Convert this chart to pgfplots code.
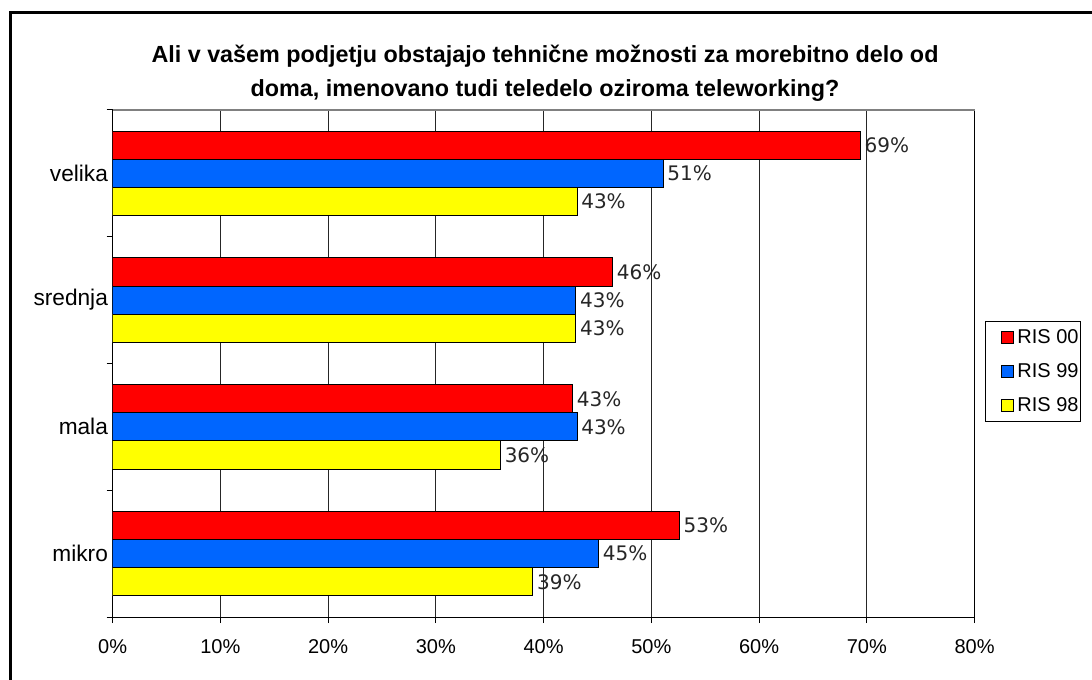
\documentclass[border=0pt]{standalone}
\usepackage{fontspec}
\setmainfont{Liberation Sans}
\newfontfamily\dejavu{DejaVu Sans}
\usepackage{pgfplots}
\pgfplotsset{compat=1.18}
\definecolor{risred}{RGB}{255,0,0}
\definecolor{risblue}{RGB}{0,102,255}
\definecolor{risyellow}{RGB}{255,255,0}
\begin{document}
\begin{tikzpicture}[x=0.75pt,y=0.75pt]
\path[use as bounding box] (0,0) rectangle (1092,679);
\draw[line width=2.25pt] (10,-10) -- (10,666) -- (1110,666);
\node[align=center, font=\bfseries\fontsize{17.5}{25.5}\selectfont] at (545,606) {Ali v vašem podjetju obstajajo tehnične možnosti za morebitno delo od\\doma, imenovano tudi teledelo oziroma teleworking?};
\begin{axis}[
  at={(84.45pt,46.5pt)}, anchor=south west,
  scale only axis, width=646.5pt, height=380.25pt,
  xbar,
  xmin=0, xmax=80, ymin=-0.5, ymax=3.5,
  xtick={0,10,...,80},
  xticklabels={0\%,10\%,20\%,30\%,40\%,50\%,60\%,70\%,80\%},
  xticklabel style={font=\fontsize{15}{18}\selectfont, yshift=-9pt},
  ytick={-0.5,0.5,1.5,2.5,3.5}, yticklabels={},
  extra y ticks={0,1,2,3},
  extra y tick labels={mikro,mala,srednja,velika},
  extra y tick style={major tick length=0pt, yticklabel style={font=\fontsize{17}{20}\selectfont}},
  extra y tick style={grid=none},
  tick pos=left,
  tick align=outside, major tick length=4.5pt,
  tick style={black, line width=0.75pt},
  xmajorgrids, grid style={black!85, line width=0.6pt},
  axis line style={black, line width=0.75pt},
  after end axis/.code={\draw[gray, line width=0.9pt] (rel axis cs:0,1) -- (rel axis cs:1,1);},
  bar width=21.08pt,
  nodes near coords,
  point meta=explicit symbolic,
  every node near coord/.append style={font=\dejavu\fontsize{15}{18}\selectfont, text=black!85, anchor=west, xshift=-0.5pt},
  legend style={at={(1.0116,0.485)}, anchor=west, draw=black, line width=0.75pt, font=\fontsize{15}{18}\selectfont, row sep=9.5pt, inner xsep=0pt, inner ysep=4pt, legend cell align=left, nodes={inner xsep=1.5pt}},
  legend image code/.code={\path (0pt,0pt) (22pt,0pt); \draw[#1, line width=0.6pt] (12pt,-4.4pt) rectangle (20.8pt,4.4pt);},
]
\addplot[fill=risred, draw=black, line width=0.75pt, bar shift=21.08pt] coordinates {(52.6,0)[53\%] (42.7,1)[43\%] (46.4,2)[46\%] (69.4,3)[69\%]};
\addplot[fill=risblue, draw=black, line width=0.75pt, bar shift=0pt] coordinates {(45.1,0)[45\%] (43.1,1)[43\%] (43.0,2)[43\%] (51.1,3)[51\%]};
\addplot[fill=risyellow, draw=black, line width=0.75pt, bar shift=-21.08pt] coordinates {(39.0,0)[39\%] (36.0,1)[36\%] (43.0,2)[43\%] (43.1,3)[43\%]};
\legend{RIS 00, RIS 99, RIS 98}
\end{axis}
\end{tikzpicture}
\end{document}
